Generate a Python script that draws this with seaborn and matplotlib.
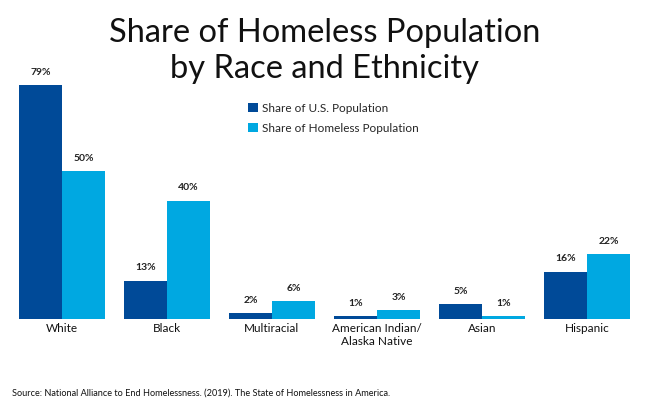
import seaborn as sns
import matplotlib.pyplot as plt
import pandas as pd

groups = ['White', 'Black', 'Multiracial', 'American Indian/\nAlaska Native', 'Asian', 'Hispanic']
us_share = [79, 13, 2, 1, 5, 16]
homeless_share = [50, 40, 6, 3, 1, 22]
series = ['Share of U.S. Population', 'Share of Homeless Population']
colors = ['#004A98', '#00A8E1']

df = pd.DataFrame({
    'group': groups * 2,
    'value': us_share + homeless_share,
    'series': [series[0]] * len(groups) + [series[1]] * len(groups),
})

sns.set_style('white')
plt.rcParams['font.family'] = ['Lato', 'DejaVu Sans']

fig = plt.figure(figsize=(6.5, 4.08), dpi=100)
ax = fig.add_axes([0.0146, 0.218, 0.9692, 0.635])

sns.barplot(data=df, x='group', y='value', hue='series', palette=colors,
            width=0.82, saturation=1, linewidth=0, ax=ax)

for cont in ax.containers:
    ax.bar_label(cont, labels=[f'{v:.0f}%' for v in cont.datavalues],
                 padding=6, fontsize=7.5, fontweight='bold', color='#222222')

ax.set_xlim(-0.5, 5.5)
ax.set_ylim(0, 87.5)
ax.set_xlabel('')
ax.set_ylabel('')
ax.set_yticks([])
ax.tick_params(axis='x', length=0, pad=3, labelsize=8.5, labelcolor='#111111')
sns.despine(ax=ax, left=True, bottom=True)

leg = ax.legend(loc='upper left', bbox_to_anchor=(0.362, 0.875), frameon=False,
                fontsize=8.5, handlelength=0.8, handleheight=0.8, handletextpad=0.35,
                labelspacing=0.75)

fig.text(0.5, 0.955, 'Share of Homeless Population\nby Race and Ethnicity',
         ha='center', va='top', fontsize=23.5, color='#111111', linespacing=1.25)
fig.text(0.018, 0.037, 'Source: National Alliance to End Homelessness. (2019). The State of Homelessness in America.',
         ha='left', va='center', fontsize=6.6, color='#111111')

fig.savefig('out.png', dpi=100)
